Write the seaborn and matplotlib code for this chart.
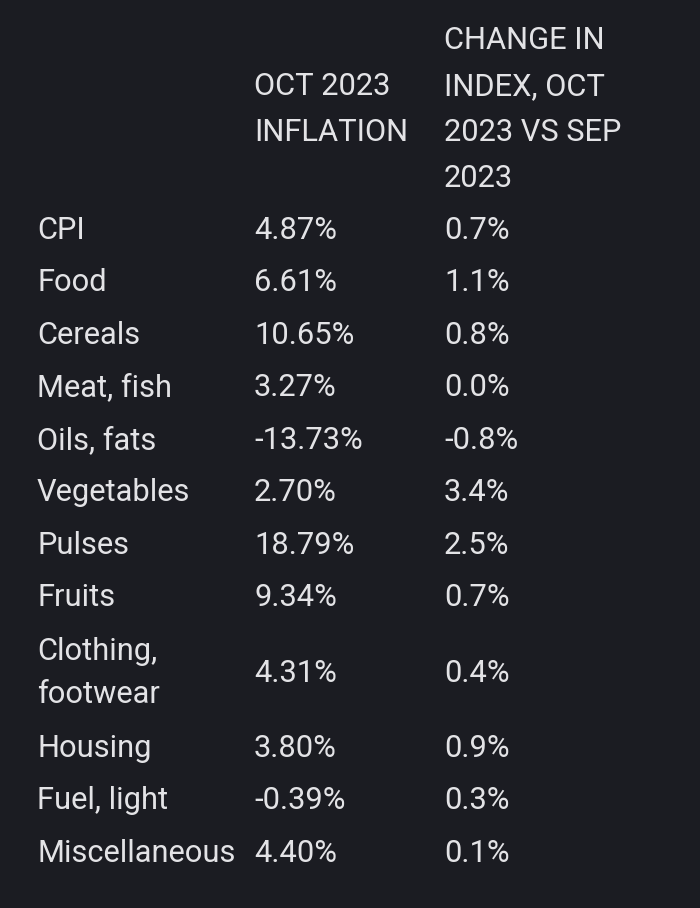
import matplotlib.pyplot as plt
import seaborn as sns

# table contents
categories = ["CPI", "Food", "Cereals", "Meat, fish", "Oils, fats", "Vegetables",
              "Pulses", "Fruits", "Clothing,\nfootwear", "Housing", "Fuel, light",
              "Miscellaneous"]
inflation = ["4.87%", "6.61%", "10.65%", "3.27%", "-13.73%", "2.70%",
             "18.79%", "9.34%", "4.31%", "3.80%", "-0.39%", "4.40%"]
index_change = ["0.7%", "1.1%", "0.8%", "0.0%", "-0.8%", "3.4%",
                "2.5%", "0.7%", "0.4%", "0.9%", "0.3%", "0.1%"]
headers = ["", "OCT 2023\nINFLATION", "CHANGE IN\nINDEX, OCT\n2023 VS SEP\n2023"]

bg = "#1b1c22"
fg = "#e3e3e6"

sns.set_theme(style="dark", rc={"axes.facecolor": bg, "figure.facecolor": bg})
plt.rcParams['font.family'] = ['Roboto', 'DejaVu Sans']

fig = plt.figure(figsize=(7, 9.08), dpi=100)
ax = fig.add_axes([0, 0, 1, 1])
ax.set_xlim(0, 700)
ax.set_ylim(908, 0)
ax.axis("off")

col_x = [37, 254, 444]
row_h = 52.5
line_h = 45.5
fs = 22.2

def nlines(s):
    return s.count("\n") + 1

# header row
head_lines = max(nlines(h) for h in headers)
top = 15
h = row_h + line_h * (head_lines - 1)
yc = top + h / 2
for x, t in zip(col_x, headers):
    ax.text(x, yc, t, fontsize=fs, color=fg, va="center", ha="left",
            linespacing=1.73)
top += h

# data rows
for cat, inf, chg in zip(categories, inflation, index_change):
    n = max(nlines(cat), nlines(inf), nlines(chg))
    h = row_h + line_h * (n - 1)
    yc = top + h / 2
    for x, t in zip(col_x, [cat, inf, chg]):
        ax.text(x, yc, t, fontsize=fs, color=fg, va="center", ha="left",
                linespacing=1.6)
    top += h

fig.savefig("out.png", dpi=100, facecolor=bg)
